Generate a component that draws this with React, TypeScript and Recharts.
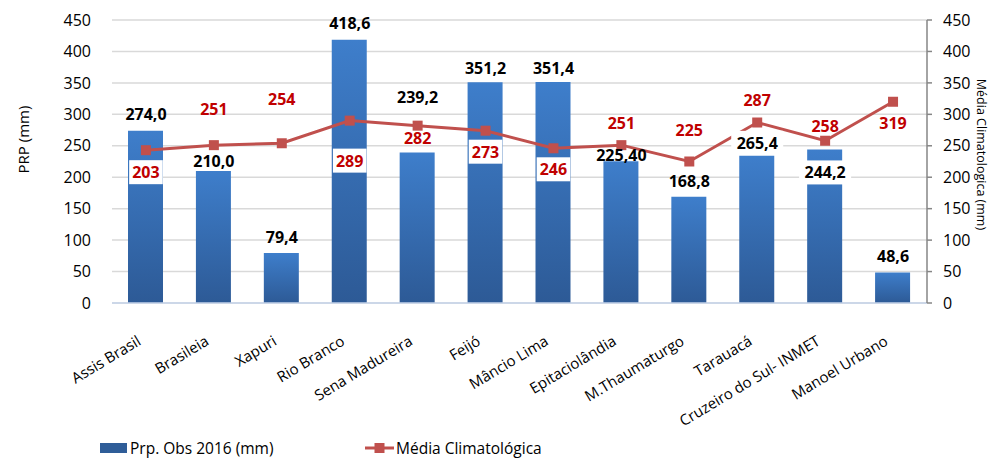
import { ComposedChart, Bar, Line, XAxis, YAxis, CartesianGrid, Legend, LabelList } from 'recharts';

const cities = [
  'Assis Brasil', 'Brasileia', 'Xapuri', 'Rio Branco', 'Sena Madureira', 'Feijó',
  'Mâncio Lima', 'Epitaciolândia', 'M.Thaumaturgo', 'Tarauacá', 'Cruzeiro do Sul- INMET', 'Manoel Urbano',
];
// bar heights as drawn
const obs2016 = [274.0, 210.0, 79.4, 418.6, 239.2, 351.2, 351.4, 225.4, 168.8, 234, 244.2, 48.6];
// printed labels (some differ from the drawn heights in the original)
const obsLabels = ['274,0', '210,0', '79,4', '418,6', '239,2', '351,2', '351,4', '225,40', '168,8', '265,4', '244,2', '48,6'];
// line points as drawn
const media = [243, 251, 254, 290, 282, 274, 246, 251, 225, 287, 258, 320];
const mediaLabels = ['203', '251', '254', '289', '282', '273', '246', '251', '225', '287', '258', '319'];
const yTicks = [0, 50, 100, 150, 200, 250, 300, 350, 400, 450];

// manual label placement (baseline offset from mark top) and white boxes
const obsDy = [-11, -4, -10, -11, -50, -8, -8, 0, -10, -7, 29, -10];
const obsBox = [false, false, false, false, false, false, false, false, false, true, true, false];
const mediaDy = [28, -30, -38, 46, 18, 27, 27, -16, -26, -17, -9, 27];
const mediaBox = [true, false, false, true, false, true, true, false, false, false, false, false];

const data = cities.map((c, i) => ({ name: c, obs: obs2016[i], media: media[i] }));

const FONT = '"Open Sans", sans-serif';

const makeLabel = (texts: string[], dys: number[], boxes: boolean[], color: string) => (props: any) => {
  const { x, y, index } = props;
  const t = texts[index];
  const by = y + dys[index];
  const w = t.length * 9.2 + 6;
  return (
    <g key={`lb-${color}-${index}`}>
      {boxes[index] && <rect x={x - w / 2} y={by - 18} width={w} height={24} fill="#ffffff" />}
      <text x={x} y={by} textAnchor="middle" fill={color} fontFamily={FONT} fontSize={16} fontWeight="bold">
        {t}
      </text>
    </g>
  );
};

const XTick = (props: any) => {
  const { x, y, payload } = props;
  const ax = x - 4;
  const ay = y + 33;
  return (
    <text x={ax} y={ay} transform={`rotate(-31 ${ax} ${ay})`} textAnchor="end" fill="#000" fontFamily={FONT} fontSize={15}>
      {payload.value}
    </text>
  );
};

const LegendBox = () => (
  <div style={{ height: 30, paddingTop: 10, boxSizing: 'border-box', position: 'relative', fontFamily: FONT, fontSize: 15.5, color: '#000' }}>
    <div style={{ position: 'absolute', left: 100, top: 8, display: 'flex', alignItems: 'center', whiteSpace: 'nowrap' }}>
      <span style={{ display: 'inline-block', width: 27, height: 10, background: '#2F5D98', marginRight: 3 }} />
      Prp. Obs 2016 (mm)
    </div>
    <div style={{ position: 'absolute', left: 365, top: 8, display: 'flex', alignItems: 'center', whiteSpace: 'nowrap' }}>
      <svg width={29} height={12} style={{ marginRight: 2 }}>
        <line x1={0} y1={6} x2={29} y2={6} stroke="#C0504D" strokeWidth={3} />
        <rect x={9.5} y={1} width={10} height={10} fill="#C0504D" />
      </svg>
      Média Climatológica
    </div>
  </div>
);

export default function App() {
  return (
    <div style={{ position: 'absolute', left: 0, top: 0, background: '#fff' }}>
      <ComposedChart width={990} height={459} data={data} margin={{ top: 20, right: 0, bottom: 0, left: 0 }}>
        <defs>
          <linearGradient id="barGrad" x1="0" y1="0" x2="0" y2="1">
            <stop offset="0%" stopColor="#3E7ECB" />
            <stop offset="100%" stopColor="#2D5A96" />
          </linearGradient>
        </defs>
        <CartesianGrid yAxisId="left" vertical={false} stroke="#d9d9d9" strokeWidth={1.5} />
        <XAxis
          dataKey="name"
          interval={0}
          height={126}
          tickLine={false}
          axisLine={{ stroke: '#c5d3ea', strokeWidth: 1.5 }}
          tick={<XTick />}
        />
        <YAxis
          yAxisId="left"
          domain={[0, 450]}
          ticks={yTicks}
          width={112}
          axisLine={false}
          tickLine={false}
          tickMargin={15}
          tick={{ fill: '#000', fontFamily: FONT, fontSize: 16 }}
          label={(p: any) => {
            const vb = p.viewBox;
            const cx = vb.x + 23;
            const cy = vb.y + vb.height / 2 - 22;
            return (
              <text x={cx} y={cy} transform={`rotate(-90 ${cx} ${cy})`} textAnchor="middle" dominantBaseline="central" fontFamily={FONT} fontSize={15} fill="#000">
                PRP (mm)
              </text>
            );
          }}
        />
        <YAxis
          yAxisId="right"
          orientation="right"
          domain={[0, 450]}
          ticks={yTicks}
          width={63}
          axisLine={{ stroke: '#868686', strokeWidth: 1.5 }}
          tickLine={{ stroke: '#868686', strokeWidth: 1.5 }}
          tickSize={5}
          tickMargin={11}
          tick={{ fill: '#000', fontFamily: FONT, fontSize: 16 }}
          label={(p: any) => {
            const vb = p.viewBox;
            const cx = vb.x + 54;
            const cy = vb.y + vb.height / 2 - 7;
            return (
              <text x={cx} y={cy} transform={`rotate(90 ${cx} ${cy})`} textAnchor="middle" dominantBaseline="central" fontFamily={FONT} fontSize={12.5} fill="#000">
                Média Climatologica (mm)
              </text>
            );
          }}
        />
        <Bar yAxisId="left" dataKey="obs" name="Prp. Obs 2016 (mm)" fill="url(#barGrad)" barSize={35} isAnimationActive={false} />
        <Line
          yAxisId="right"
          dataKey="media"
          name="Média Climatológica"
          stroke="#C0504D"
          strokeWidth={3}
          dot={(p: any) => <rect key={`d-${p.index}`} x={p.cx - 5} y={p.cy - 5} width={10} height={10} fill="#C0504D" />}
          activeDot={false}
          isAnimationActive={false}
        >
          <LabelList dataKey="media" content={makeLabel(mediaLabels, mediaDy, mediaBox, '#C00000')} />
        </Line>
        <Line
          yAxisId="left"
          dataKey="obs"
          stroke="none"
          dot={false}
          activeDot={false}
          legendType="none"
          isAnimationActive={false}
        >
          <LabelList dataKey="obs" content={makeLabel(obsLabels, obsDy, obsBox, '#000000')} />
        </Line>
        <Legend verticalAlign="bottom" height={30} content={<LegendBox />} />
      </ComposedChart>
    </div>
  );
}
